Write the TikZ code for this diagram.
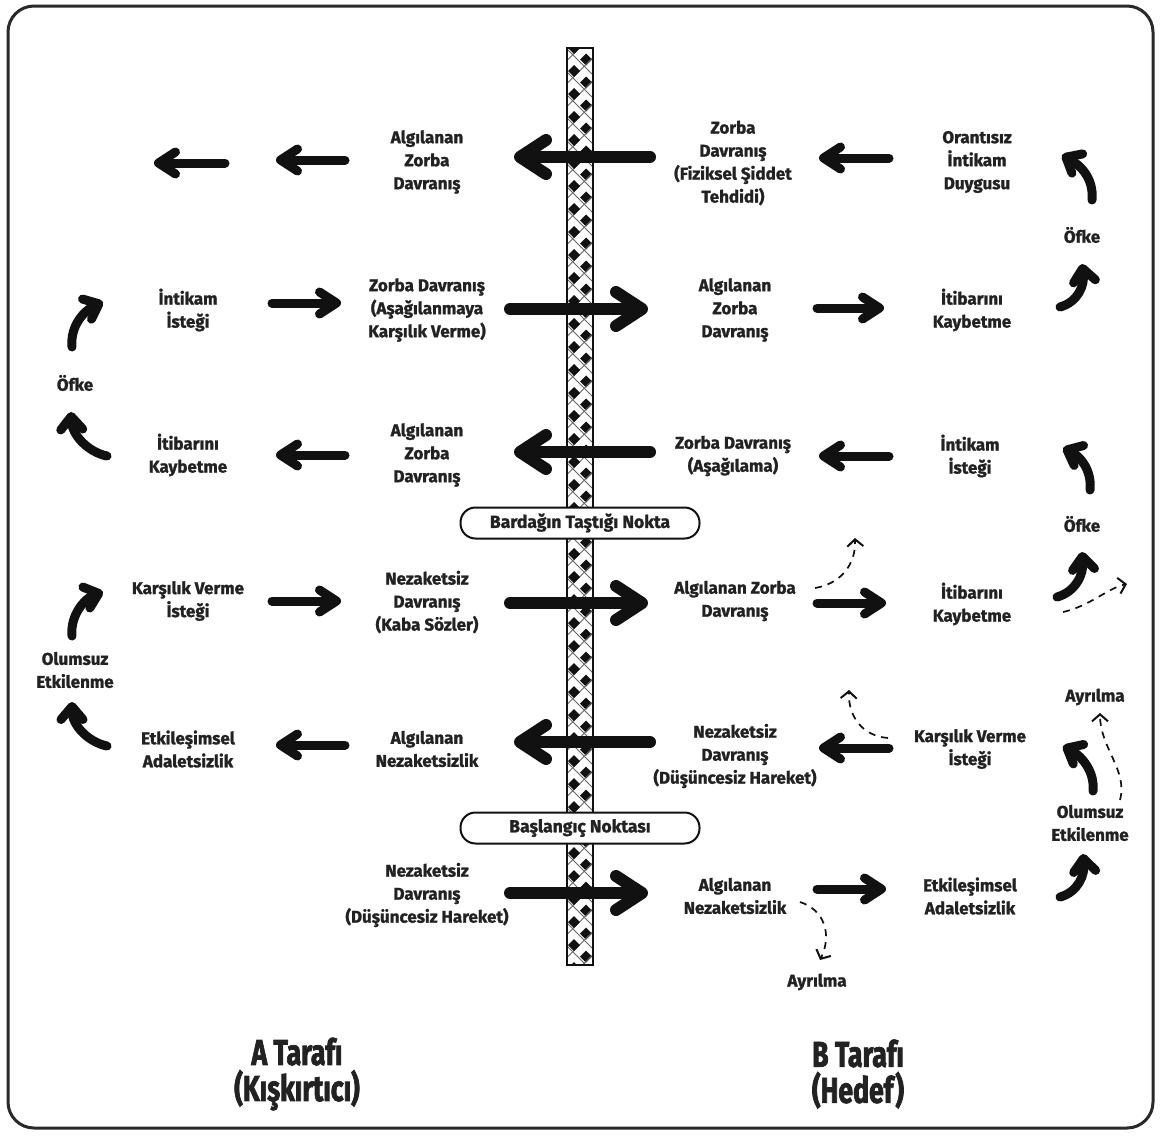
\documentclass[tikz,border=0pt]{standalone}
\usepackage{fontspec}
\setmainfont{Fira Sans}[BoldFeatures={FakeBold=1.3}]
\newfontfamily\condfont{Fira Sans}[FakeStretch=0.74, BoldFeatures={FakeBold=2}]
\usetikzlibrary{arrows.meta}
\definecolor{txt}{HTML}{222222}
\definecolor{ink}{HTML}{111111}
\tikzset{
  lbl/.style={align=center, font=\fontsize{17}{23}\selectfont\bfseries, text=txt, inner sep=0pt},
  biglbl/.style={align=center, font=\condfont\bfseries\fontsize{36}{36}\selectfont, text=txt, inner sep=0pt},
  sarrow/.style={draw=ink, line width=9pt, line cap=round, -{Straight Barb[round,length=17pt,width=22pt]}},
  barrow/.style={draw=ink, line width=12pt, line cap=round, -{Straight Barb[round,length=26pt,width=34pt]}},
  carrow/.style={draw=ink, line width=9pt, line cap=round, -{Straight Barb[round,length=13pt,width=22pt]}},
  darrow/.style={draw=ink, line width=1.7pt, dash pattern=on 7pt off 6pt, -{Straight Barb[length=7pt,width=16pt,line width=2pt]}},
  tagbox/.style={draw=ink, line width=2pt, fill=white, rounded corners=15pt, minimum width=239pt, minimum height=31pt, font=\fontsize{17.5}{20}\selectfont\bfseries, text=txt}
}
\begin{document}
\begin{tikzpicture}[x=1pt,y=-1pt]
\useasboundingbox (0,0) rectangle (1161,1135);
\fill[white] (0,0) rectangle (1161,1135);
% frame
\draw[line width=3pt, draw=ink!90, rounded corners=26pt] (8,6) rectangle (1153,1128);

% central bar
\begin{scope}
\clip (567,48) rectangle (593,965);
\fill[white] (567,48) rectangle (593,965);
\foreach \k in {0,...,40} {
  \pgfmathsetmacro{\ya}{48+23*\k}
  \draw[gray!80!black, line width=0.9pt] (567,\ya+1) -- (593,\ya+27);
  \draw[gray!80!black, line width=0.9pt] (567,\ya+12.5) -- (593,\ya-13.5);
  \fill[ink] (574,\ya) ++(0,-6) -- ++(6,6) -- ++(-6,6) -- ++(-6,-6) -- cycle;
  \fill[ink] (586,\ya+11.5) ++(0,-6) -- ++(6,6) -- ++(-6,6) -- ++(-6,-6) -- cycle;
}
\end{scope}
\draw[ink, line width=2.2pt] (567,48) rectangle (593,965);

% ---- Row 1
\node[lbl] (a1) at (427,162) {Algılanan\\Zorba\\Davranış};
\node[lbl] (b1) at (733,163) {Zorba\\Davranış\\(Fiziksel Şiddet\\Tehdidi)};
\node[lbl] (c1) at (977,162) {Orantısız\\İntikam\\Duygusu};
\draw[sarrow] (225,163) -- (154,163);
\draw[sarrow] (345,160) -- (276,160);
\draw[barrow] (650,157) -- (514,157);
\draw[sarrow] (889,158) -- (819,158);
\node[lbl] (of1) at (1082,235) {Öfke};
\draw[carrow] (1092,200) .. controls (1094,178) and (1080,165) .. (1062,155);
\draw[carrow] (1060,307) .. controls (1078,302) and (1085,285) .. (1082,264);

% ---- Row 2
\node[lbl] (a2l) at (188,310) {İntikam\\İsteği};
\node[lbl] (a2) at (427,310) {Zorba Davranış\\(Aşağılanmaya\\Karşılık Verme)};
\node[lbl] (b2) at (735,310) {Algılanan\\Zorba\\Davranış};
\node[lbl] (c2) at (972,310) {İtibarını\\Kaybetme};
\draw[sarrow] (272,303) -- (341,303);
\draw[barrow] (510,309) -- (648,309);
\draw[sarrow] (817,308) -- (884,308);
\node[lbl] (of2) at (75,383) {Öfke};
\draw[carrow] (72,347) .. controls (70,325) and (85,310) .. (103,302);
\draw[carrow] (107,456) .. controls (88,452) and (72,435) .. (71,412);

% ---- Row 3
\node[lbl] (a3l) at (188,455) {İtibarını\\Kaybetme};
\node[lbl] (a3) at (427,455) {Algılanan\\Zorba\\Davranış};
\node[lbl] (b3) at (733,456) {Zorba Davranış\\(Aşağılama)};
\node[lbl] (c3) at (970,456) {İntikam\\İsteği};
\draw[sarrow] (345,455) -- (276,455);
\draw[barrow] (650,452) -- (514,452);
\draw[sarrow] (889,456) -- (819,456);
\node[lbl] (of3) at (1082,524) {Öfke};
\draw[carrow] (1090,490) .. controls (1092,470) and (1080,456) .. (1063,448);
\draw[carrow] (1057,597) .. controls (1075,592) and (1084,575) .. (1082,552);
\draw[darrow] (1063,612) .. controls (1090,606) and (1108,588) .. (1127,584);

\node[tagbox] (tast) at (580,523) {Bardağın Taştığı Nokta};

% ---- Row 4
\node[lbl] (a4l) at (188,601) {Karşılık Verme\\İsteği};
\node[lbl] (a4) at (427,602) {Nezaketsiz\\Davranış\\(Kaba Sözler)};
\node[lbl] (b4) at (735,601) {Algılanan Zorba\\Davranış};
\node[lbl] (c4) at (972,604) {İtibarını\\Kaybetme};
\draw[sarrow] (272,601) -- (341,601);
\draw[barrow] (510,603) -- (648,603);
\draw[sarrow] (817,603) -- (886,603);
\draw[darrow] (815,588) .. controls (840,584) and (856,565) .. (855,538);
\node[lbl] (ol1) at (75,670) {Olumsuz\\Etkilenme};
\draw[carrow] (72,636) .. controls (70,615) and (85,598) .. (103,592);
\draw[carrow] (107,746) .. controls (88,742) and (72,725) .. (72,702);

% ---- Row 5
\node[lbl] (a5l) at (188,749) {Etkileşimsel\\Adaletsizlik};
\node[lbl] (a5) at (427,749) {Algılanan\\Nezaketsizlik};
\node[lbl] (b5) at (735,756) {Nezaketsiz\\Davranış\\(Düşüncesiz Hareket)};
\node[lbl] (c5) at (970,749) {Karşılık Verme\\İsteği};
\draw[sarrow] (345,745) -- (276,745);
\draw[barrow] (650,742) -- (514,742);
\draw[sarrow] (889,748) -- (819,748);
\draw[darrow] (888,738) .. controls (862,736) and (848,716) .. (849,690);
\node[lbl] (ay1) at (1095,697) {Ayrılma};
\node[lbl] (ol2) at (1090,823) {Olumsuz\\Etkilenme};
\draw[carrow] (1093,791) .. controls (1095,770) and (1080,755) .. (1063,746);
\draw[darrow] (1120,800) .. controls (1128,770) and (1100,748) .. (1100,713);
\draw[carrow] (1060,897) .. controls (1078,892) and (1085,875) .. (1083,854);

\node[tagbox] (basl) at (580,828) {Başlangıç Noktası};

% ---- Row 6
\node[lbl] (a6) at (427,895) {Nezaketsiz\\Davranış\\(Düşüncesiz Hareket)};
\node[lbl] (b6) at (735,896) {Algılanan\\Nezaketsizlik};
\node[lbl] (c6) at (970,896) {Etkileşimsel\\Adaletsizlik};
\draw[barrow] (510,893) -- (648,893);
\draw[sarrow] (817,889) -- (886,889);
\draw[darrow] (800,902) .. controls (825,910) and (832,935) .. (820,960);
\node[lbl] (ay2) at (817,982) {Ayrılma};

% ---- bottom
\node[biglbl] (sa) at (297,1074) {A Tarafı\\(Kışkırtıcı)};
\node[biglbl] (sb) at (858,1074) {B Tarafı\\(Hedef)};
\end{tikzpicture}
\end{document}
